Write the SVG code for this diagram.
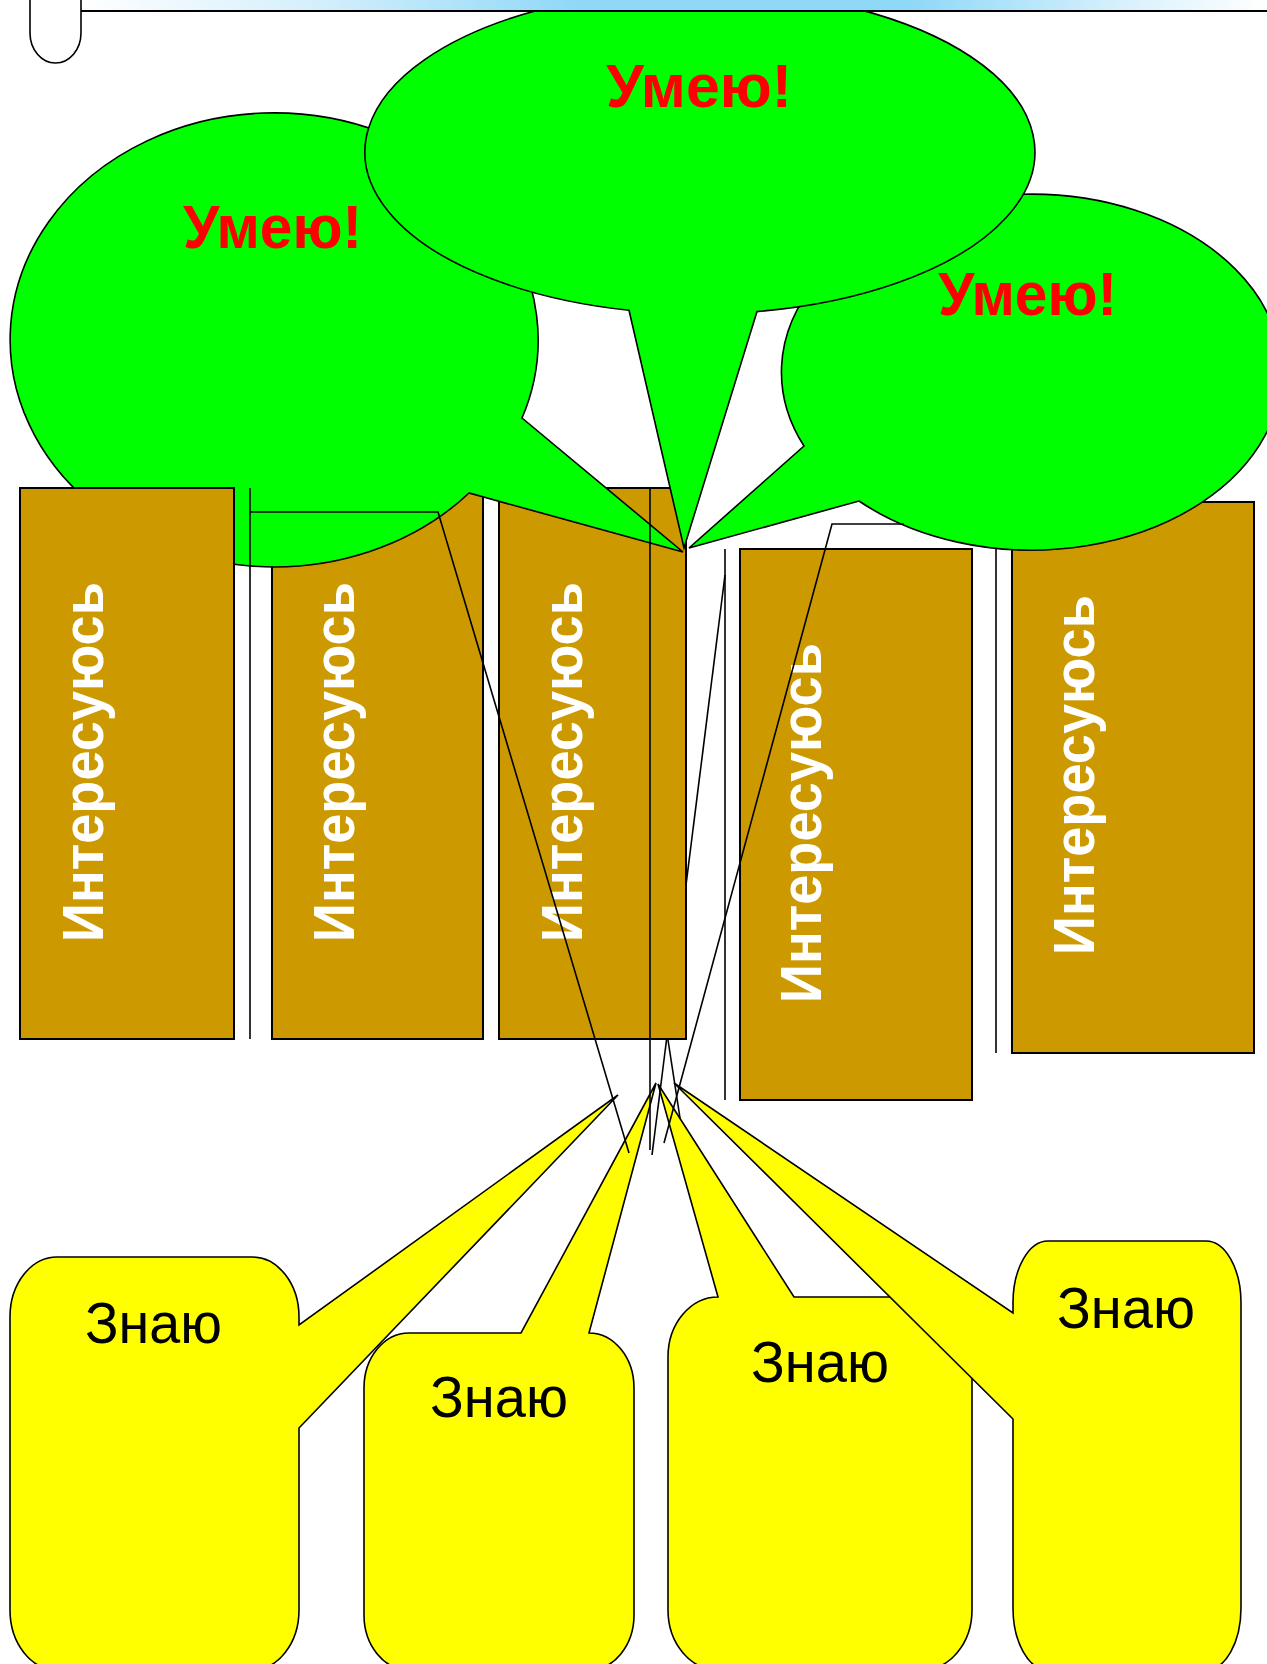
<svg xmlns="http://www.w3.org/2000/svg" width="1267" height="1664" viewBox="0 0 1267 1664">
<defs>
<linearGradient id="ban" x1="0" y1="0" x2="1" y2="0">
<stop offset="0" stop-color="#ffffff"/>
<stop offset="0.2" stop-color="#d4effc"/>
<stop offset="0.42" stop-color="#8fd8f8"/>
<stop offset="0.7" stop-color="#8fd8f8"/>
<stop offset="0.88" stop-color="#d8f1fd"/>
<stop offset="1" stop-color="#ffffff"/>
</linearGradient>
<style>
.trunk{fill:#cc9900;stroke:#000;stroke-width:2}
.leaf{fill:#00ff00;stroke:#000;stroke-width:1.6;stroke-linejoin:miter}
.root{fill:#ffff00;stroke:#000;stroke-width:1.6}
.ti{font-family:"Liberation Sans",Arial,sans-serif;font-weight:bold;font-size:57px;fill:#ffffff}
.tu{font-family:"Liberation Sans",Arial,sans-serif;font-weight:bold;font-size:62px;fill:#ff0000}
.tz{font-family:"Liberation Sans",Arial,sans-serif;font-size:57px;fill:#000000}
.ln{fill:none;stroke:#000;stroke-width:1.6}
</style>
</defs>
<rect width="1267" height="1664" fill="#ffffff"/>

<g id="trunk2"><rect class="trunk" x="272" y="488" width="211" height="551"/><text class="ti" transform="translate(354,762) rotate(-90)" text-anchor="middle" textLength="360" lengthAdjust="spacingAndGlyphs">Интересуюсь</text></g>
<g id="trunk3"><rect class="trunk" x="499" y="488" width="187" height="551"/><text class="ti" transform="translate(582,762) rotate(-90)" text-anchor="middle" textLength="360" lengthAdjust="spacingAndGlyphs">Интересуюсь</text></g>
<g id="trunk4"><rect class="trunk" x="740" y="549" width="232" height="551"/><text class="ti" transform="translate(821,823) rotate(-90)" text-anchor="middle" textLength="360" lengthAdjust="spacingAndGlyphs">Интересуюсь</text></g>
<g id="trunk5"><rect class="trunk" x="1012" y="502" width="242" height="551"/><text class="ti" transform="translate(1094,775) rotate(-90)" text-anchor="middle" textLength="360" lengthAdjust="spacingAndGlyphs">Интересуюсь</text></g>

<g id="leaf-right"><path class="leaf" d="M804,446 L689,548 L859,501 A250,178 0 1 0 804,446 Z"/><text class="tu" x="938" y="315" textLength="179" lengthAdjust="spacingAndGlyphs">Умею!</text></g>
<g id="leaf-left"><path class="leaf" d="M522,418 L683,552 L469,493 A264,227 0 1 1 522,418 Z"/><text class="tu" x="183" y="248" textLength="179" lengthAdjust="spacingAndGlyphs">Умею!</text></g>
<g id="leaf-top"><path class="leaf" d="M629,310.3 L684,548 L757,311.6 A335,162 0 1 0 629,310.3 Z"/><text class="tu" x="606" y="107" textLength="186" lengthAdjust="spacingAndGlyphs">Умею!</text></g>

<g id="trunk1"><rect class="trunk" x="20" y="488" width="214" height="551"/><text class="ti" transform="translate(103,762) rotate(-90)" text-anchor="middle" textLength="360" lengthAdjust="spacingAndGlyphs">Интересуюсь</text></g>

<g id="root3"><path class="root" d="M718,1297 L658,1084 L794,1297 H922 A50,60 0 0 1 972,1357 V1610 A50,60 0 0 1 922,1670 H718 A50,60 0 0 1 668,1610 V1357 A50,60 0 0 1 718,1297 Z"/><text class="tz" x="751" y="1382" textLength="138" lengthAdjust="spacingAndGlyphs">Знаю</text></g>
<g id="root4"><path class="root" d="M1048,1241 H1206 A35,62 0 0 1 1241,1303 V1608 A35,62 0 0 1 1206,1670 H1048 A35,62 0 0 1 1013,1608 V1419 L674,1083 L1013,1313 V1303 A35,62 0 0 1 1048,1241 Z"/><text class="tz" x="1057" y="1328" textLength="138" lengthAdjust="spacingAndGlyphs">Знаю</text></g>
<g id="root1"><path class="root" d="M57,1257 H252 A47,60 0 0 1 299,1317 V1325 L618,1095 L299,1428 V1610 A47,60 0 0 1 252,1670 H57 A47,60 0 0 1 10,1610 V1317 A47,60 0 0 1 57,1257 Z"/><text class="tz" x="85" y="1343" textLength="137" lengthAdjust="spacingAndGlyphs">Знаю</text></g>
<g id="root2"><path class="root" d="M409,1333 H521 L656,1083 L589,1333 A45,55 0 0 1 634,1388 V1615 A45,55 0 0 1 589,1670 H409 A45,55 0 0 1 364,1615 V1388 A45,55 0 0 1 409,1333 Z"/><text class="tz" x="430" y="1417" textLength="138" lengthAdjust="spacingAndGlyphs">Знаю</text></g>

<g id="connectors">
<line class="ln" x1="250" y1="488" x2="250" y2="1039"/>
<polyline class="ln" points="250,512 438,512 629,1153"/>
<line class="ln" x1="650" y1="488" x2="650" y2="1150"/>
<line class="ln" x1="725" y1="549" x2="725" y2="1100"/>
<line class="ln" x1="725" y1="575" x2="686" y2="885"/>
<line class="ln" x1="666.5" y1="1040" x2="652" y2="1155"/>
<line class="ln" x1="668" y1="1040" x2="680" y2="1118"/>
<polyline class="ln" points="904,524 832,524 664,1143"/>
<line class="ln" x1="996" y1="549" x2="996" y2="1053"/>
</g>

<g id="banner">
<rect x="81" y="0" width="1186" height="11" fill="url(#ban)"/>
<line x1="81" y1="11" x2="1267" y2="11" stroke="#000" stroke-width="2"/>
<path d="M30,0 V33 A25.5,30 0 0 0 81,33 V0" fill="#ffffff" stroke="#000" stroke-width="1.6"/>
</g>
</svg>
